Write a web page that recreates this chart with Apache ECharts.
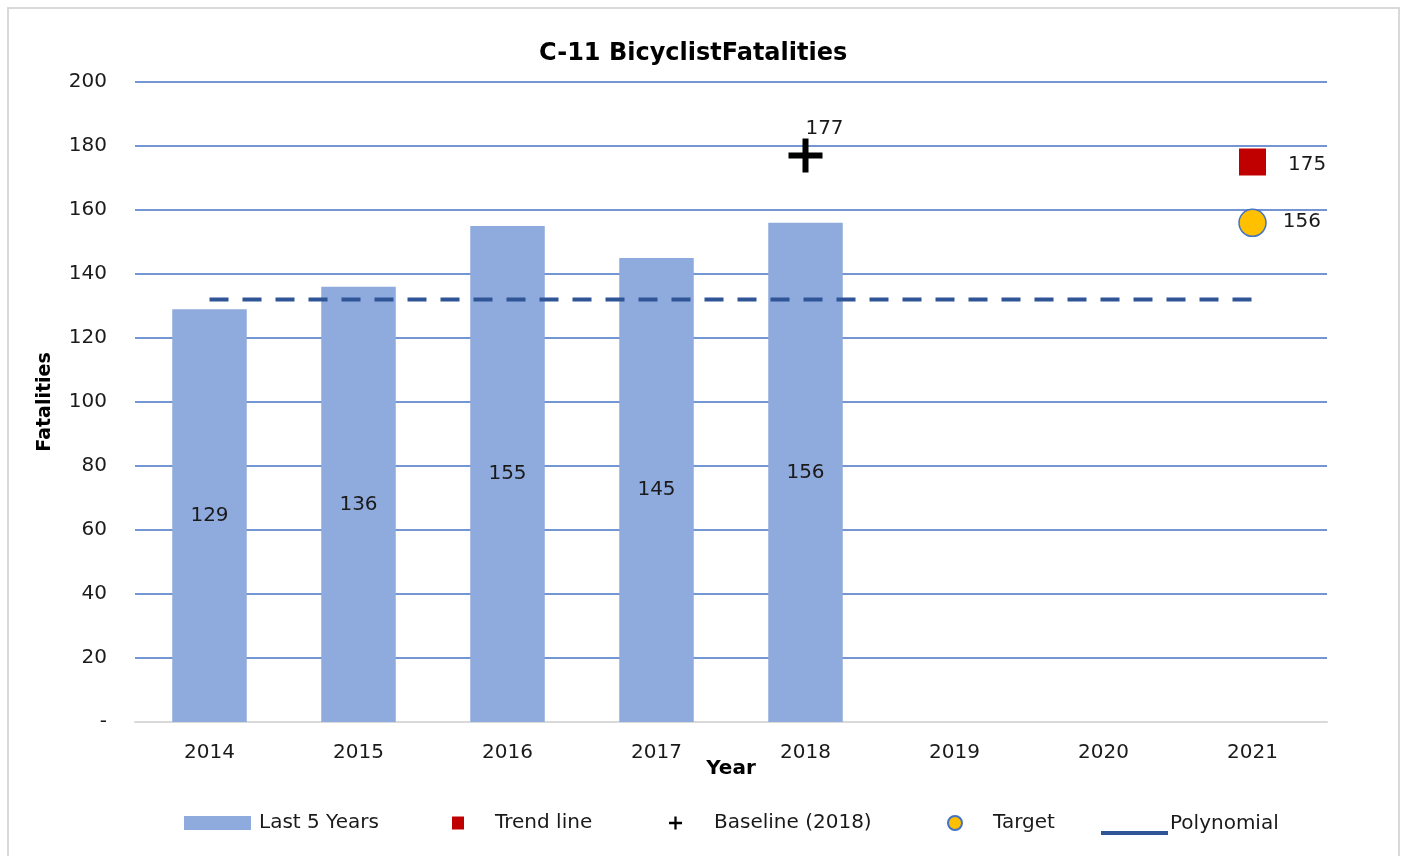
<!DOCTYPE html>
<html>
<head>
<meta charset="utf-8">
<script src="https://cdn.jsdelivr.net/npm/echarts@6/dist/echarts.min.js"></script>
<style>
  html, body { margin: 0; padding: 0; background: #fff; }
  #main { width: 1404px; height: 856px; }
</style>
</head>
<body>
<div id="main"></div>
<script>
// chart data
const years = ['2014', '2015', '2016', '2017', '2018', '2019', '2020', '2021'];
const last5Years = [129, 136, 155, 145, 156, null, null, null];
const trendLine = [null, null, null, null, null, null, null, 175];
const baseline = [null, null, null, null, 177, null, null, null];
const target = [null, null, null, null, null, null, null, 156];
const polynomial = [132, 132, 132, 132, 132, 132, 132, 132];

const FONT = 'DejaVu Sans';
const TXT = '#1a1a1a';
const PLUS = 'path://M14,0h6v14h14v6h-14v14h-6v-14h-14v-6h14z';
// legend line sits low, like the original: tiny invisible-ish dot on top keeps the box tall
const LOW_LINE = 'path://M0,0h0.05v0.05h-0.05z M0,18h67v4h-67z';

const chart = echarts.init(document.getElementById('main'));

function legendAt(left, name, opts, pad) {
  return Object.assign({
    left: left,
    top: 808,
    data: [{ name: name, itemStyle: { opacity: 1 } }],
    itemGap: 0,
    textStyle: { fontFamily: FONT, fontSize: 20, color: TXT, padding: pad || 0 },
    selectedMode: false
  }, opts);
}

const option = {
  animation: false,
  textStyle: { fontFamily: FONT },
  title: {
    text: 'C-11 BicyclistFatalities',
    left: 534,
    top: 37,
    textStyle: { fontFamily: FONT, fontSize: 24, fontWeight: 'bold', color: '#000' }
  },
  graphic: [{
    type: 'rect',
    shape: { x: 8, y: 8, width: 1391, height: 870 },
    style: { fill: null, stroke: '#d9d9d9', lineWidth: 2 },
    silent: true
  }],
  legend: [
    legendAt(179, 'Last 5 Years', { itemWidth: 67, itemHeight: 14, icon: 'rect' }, [0, 0, 0, 3]),
    legendAt(447, 'Trend line', { itemWidth: 12, itemHeight: 13, icon: 'rect' }, [0, 0, 0, 26]),
    legendAt(664, 'Baseline (2018)', { itemWidth: 13, itemHeight: 13 }, [0, 0, 0, 27]),
    legendAt(942, 'Target', { itemWidth: 14, itemHeight: 14 }, [0, 0, 0, 26]),
    legendAt(1096, 'Polynomial', { itemWidth: 67, itemHeight: 22, icon: LOW_LINE, top: 808 }, [0, 0, 0, -3])
  ],
  grid: { left: 135, right: 77, top: 82, bottom: 134, containLabel: false },
  xAxis: {
    type: 'category',
    data: years,
    name: 'Year',
    nameLocation: 'middle',
    nameGap: 37,
    nameMoveOverlap: false,
    nameTextStyle: { fontFamily: FONT, fontSize: 20, fontWeight: 'bold', color: '#000' },
    axisLine: { lineStyle: { color: '#d9d9d9', width: 2 } },
    axisTick: { show: false },
    axisLabel: { fontFamily: FONT, fontSize: 20, color: TXT, margin: 21 }
  },
  yAxis: {
    type: 'value',
    min: 0,
    max: 200,
    interval: 20,
    name: 'Fatalities',
    nameLocation: 'middle',
    nameGap: 80,
    nameRotate: 90,
    nameTextStyle: { fontFamily: FONT, fontSize: 19, fontWeight: 'bold', color: '#000' },
    axisLine: { show: false },
    axisTick: { show: false },
    axisLabel: {
      fontFamily: FONT, fontSize: 20, color: TXT, margin: 28,
      formatter: v => (v === 0 ? '-' : v)
    },
    splitLine: { lineStyle: { color: '#4472C4', width: 1.5 } }
  },
  series: [
    {
      name: 'Last 5 Years',
      type: 'bar',
      data: last5Years,
      barWidth: '50%',
      itemStyle: { color: '#8FAADC' },
      label: { show: true, position: 'inside', fontFamily: FONT, fontSize: 20, color: TXT }
    },
    {
      name: 'Polynomial',
      type: 'line',
      data: polynomial,
      showSymbol: false,
      symbol: 'none',
      itemStyle: { color: '#2F5597' },
      lineStyle: { color: '#2F5597', width: 4, type: [19, 14] },
      z: 3
    },
    {
      name: 'Trend line',
      type: 'scatter',
      data: trendLine,
      symbol: 'rect',
      symbolSize: 27,
      itemStyle: { color: '#C00000', opacity: 1 },
      label: { show: true, position: 'right', distance: 22, offset: [0, 3], fontFamily: FONT, fontSize: 20, color: TXT },
      z: 4
    },
    {
      name: 'Baseline (2018)',
      type: 'scatter',
      data: baseline,
      symbol: PLUS,
      symbolSize: 34,
      itemStyle: { color: '#000', opacity: 1 },
      label: { show: true, position: 'top', distance: 0, offset: [19, 0], fontFamily: FONT, fontSize: 20, color: TXT },
      z: 4
    },
    {
      name: 'Target',
      type: 'scatter',
      data: target,
      symbol: 'circle',
      symbolSize: 27,
      itemStyle: { color: '#FFC000', borderColor: '#4472C4', borderWidth: 1.5, opacity: 1 },
      label: { show: true, position: 'right', distance: 16, offset: [0, -1], fontFamily: FONT, fontSize: 20, color: TXT },
      z: 4
    }
  ]
};

chart.setOption(option);
</script>
</body>
</html>
